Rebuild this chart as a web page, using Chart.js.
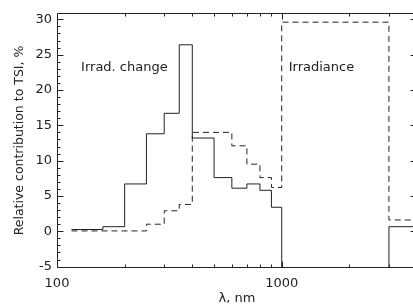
<!DOCTYPE html>
<html>
<head>
<meta charset="utf-8">
<script src="https://cdn.jsdelivr.net/npm/chart.js@4.4.1/dist/chart.umd.min.js"></script>
<style>
  html, body { margin: 0; padding: 0; background: #fff; overflow: hidden; }
  #wrap { width: 418px; height: 306px; }
</style>
</head>
<body>
<div id="wrap"><canvas id="myChart" width="418" height="306"></canvas></div>
<script>
// bin edges in nm, values in % of TSI (one value per bin)
const changeEdges = [116, 160, 200, 250, 300, 350, 400, 500, 600, 700, 800, 900, 1000, 3000, 4000];
const changeValues = [0.25, 0.65, 6.7, 13.8, 16.7, 26.4, 13.2, 7.6, 6.1, 6.7, 5.8, 3.4, -10, 0.65];

const irradEdges = [116, 250, 300, 350, 400, 600, 700, 800, 900, 1000, 3000, 4000];
const irradValues = [0.05, 1.0, 2.9, 3.8, 14.0, 12.1, 9.5, 7.6, 6.2, 29.6, 1.6];

const xTickLabels = [100, 1000];
const yTicks = [-5, 0, 5, 10, 15, 20, 25, 30];

const labels = [
    { text: 'Irrad. change', x: 128, y: 23.1 },
    { text: 'Irradiance', x: 1074, y: 23.1 }
];

const ink = '#222';
const font = 'DejaVu Sans';

// turn bins into points for a stepped line
function steps(edges, values) {
    return edges.map((e, i) => ({ x: e, y: values[Math.min(i, values.length - 1)] }));
}

const frameTicks = {
    id: 'frameTicks',
    afterDraw(chart) {
        const { ctx, chartArea: a, scales: { x, y } } = chart;
        const L = Math.round(a.left) + 0.5, R = Math.round(a.right) - 0.5;
        const T = Math.round(a.top) + 0.5, B = Math.round(a.bottom) - 0.5;
        ctx.save();
        ctx.strokeStyle = ink;
        ctx.lineWidth = 1;
        ctx.beginPath();
        ctx.rect(L, T, R - L, B - T);

        for (let v = Math.ceil(y.min); v <= Math.floor(y.max); v++) {
            const len = yTicks.includes(v) ? 6 : 3;
            const py = Math.round(y.getPixelForValue(v)) + 0.5;
            ctx.moveTo(L, py); ctx.lineTo(L + len, py);
            ctx.moveTo(R, py); ctx.lineTo(R - len, py);
        }
        for (let d = 100; d <= x.max; d *= 10) {
            for (let k = 1; k < 10; k++) {
                const v = k * d;
                if (v < x.min || v > x.max) continue;
                const len = xTickLabels.includes(v) ? 6 : 3;
                const px = Math.round(x.getPixelForValue(v)) + 0.5;
                ctx.moveTo(px, B); ctx.lineTo(px, B - len);
                ctx.moveTo(px, T); ctx.lineTo(px, T + len);
            }
        }
        ctx.stroke();

        ctx.fillStyle = ink;
        ctx.font = '13px "' + font + '"';
        ctx.textBaseline = 'middle';
        labels.forEach(l => {
            ctx.fillText(l.text, x.getPixelForValue(l.x), y.getPixelForValue(l.y));
        });
        ctx.restore();
    }
};

new Chart(document.getElementById('myChart'), {
    type: 'line',
    data: {
        datasets: [{
            label: 'Irrad. change',
            data: steps(changeEdges, changeValues),
            stepped: 'before',
            borderColor: ink,
            borderWidth: 1,
            pointRadius: 0
        }, {
            label: 'Irradiance',
            data: steps(irradEdges, irradValues),
            stepped: 'before',
            borderColor: ink,
            borderWidth: 1,
            borderDash: [6, 4],
            pointRadius: 0
        }]
    },
    options: {
        responsive: false,
        animation: false,
        devicePixelRatio: 1,
        layout: { padding: { top: 13, right: 1, left: 0, bottom: 0 } },
        plugins: { legend: { display: false }, tooltip: { enabled: false } },
        scales: {
            x: {
                type: 'logarithmic',
                min: 100,
                max: 4000,
                grid: { display: false, drawTicks: false },
                border: { display: false },
                ticks: {
                    color: ink,
                    font: { family: font, size: 13 },
                    padding: 8,
                    maxRotation: 0,
                    autoSkip: false,
                    callback: v => xTickLabels.includes(v) ? String(v) : ''
                },
                title: { display: true, text: 'λ, nm', color: ink, font: { family: font, size: 13 }, padding: { top: 0, bottom: 0 } },
                afterFit(s) { s.height = 38; s.paddingLeft = 0; s.paddingRight = 0; }
            },
            y: {
                min: -5.2,
                max: 30.9,
                grid: { display: false, drawTicks: false },
                border: { display: false },
                ticks: {
                    color: ink,
                    font: { family: font, size: 13 },
                    padding: 5,
                    stepSize: 5,
                    includeBounds: false
                },
                title: { display: true, text: 'Relative contribution to TSI, %', color: ink, font: { family: font, size: 12.5 }, padding: { top: 12, bottom: 0 } },
                afterFit(s) { s.width = 57; }
            }
        }
    },
    plugins: [frameTicks]
});
</script>
</body>
</html>
